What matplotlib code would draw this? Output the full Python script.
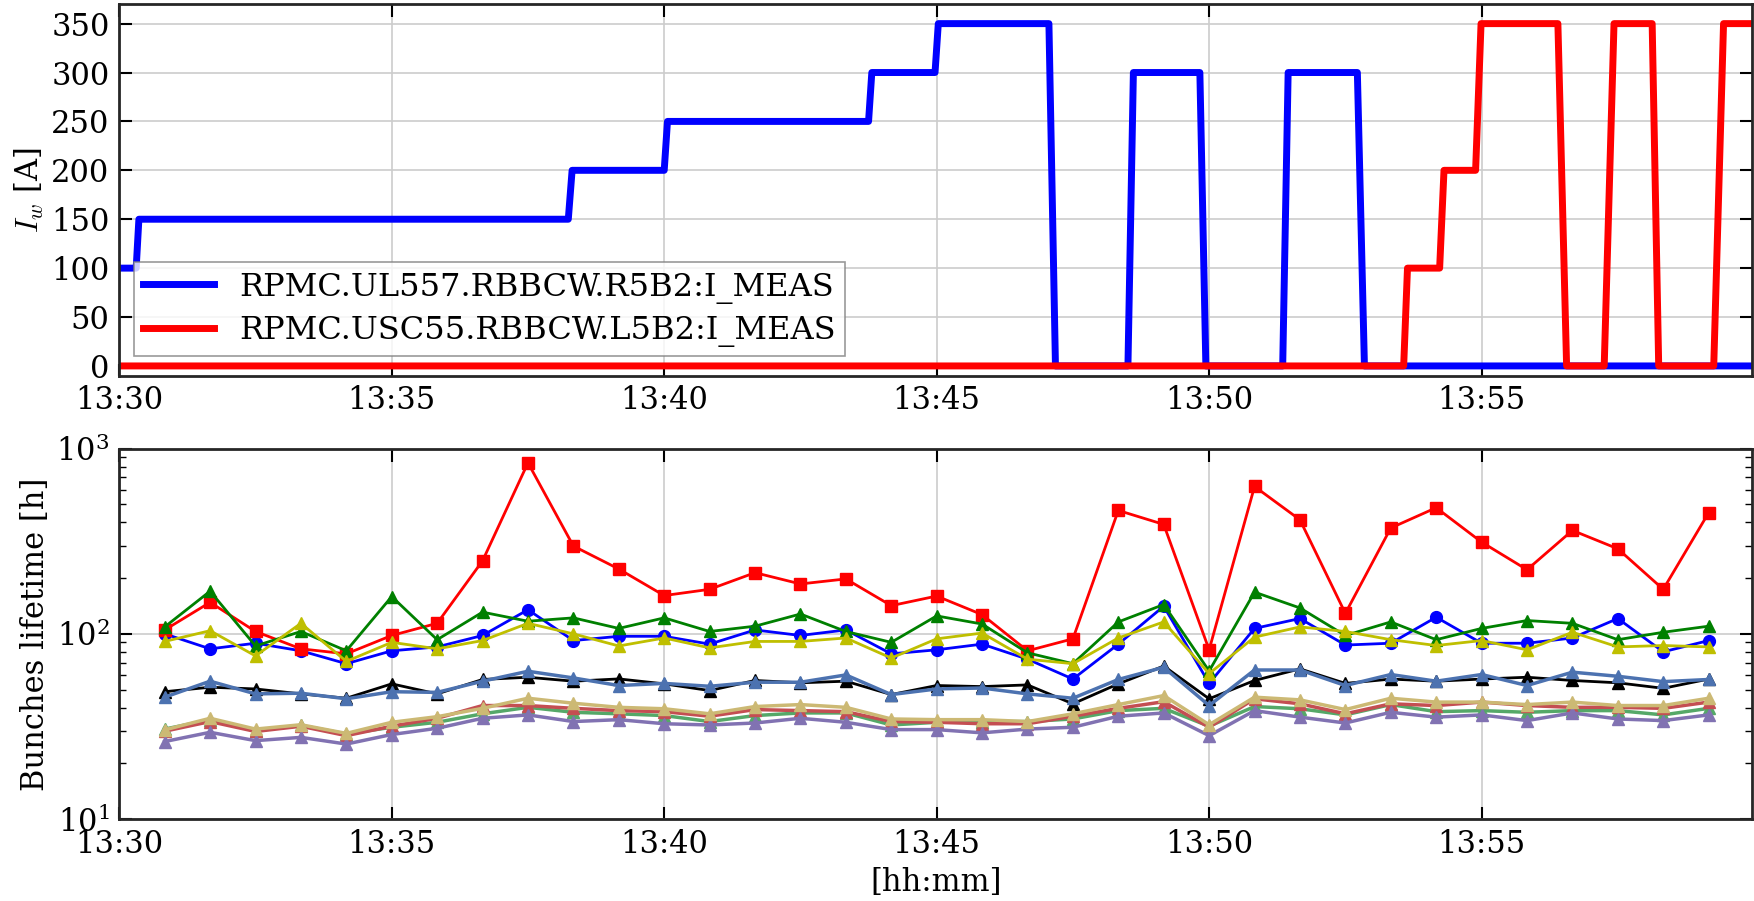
import matplotlib
matplotlib.use('Agg')
import matplotlib.pyplot as plt
import matplotlib.dates as mdates
from datetime import datetime, timedelta

plt.rcParams['font.family'] = ['DejaVu Serif']
plt.rcParams['mathtext.fontset'] = 'cm'
plt.rcParams['font.size'] = 22
plt.rcParams['xtick.direction'] = 'in'
plt.rcParams['ytick.direction'] = 'in'
plt.rcParams['xtick.top'] = True
plt.rcParams['ytick.right'] = True
plt.rcParams['axes.edgecolor'] = '#262626'
plt.rcParams['axes.linewidth'] = 2
plt.rcParams['grid.color'] = '#cccccc'
plt.rcParams['grid.linewidth'] = 1.2

t0 = datetime(2016, 1, 1, 13, 30, 0)

# wire currents, breakpoints in minutes after 13:30
blue_t = [0, 0.31, 0.36, 8.24, 8.31, 10.0, 10.06, 13.75, 13.81, 14.97, 15.03,
          17.06, 17.18, 18.51, 18.61, 19.83, 19.94, 21.35, 21.45, 22.72, 22.85, 30]
blue_v = [100, 100, 150, 150, 200, 200, 250, 250, 300, 300, 350,
          350, 0, 0, 300, 300, 0, 0, 300, 300, 0, 0]
red_t = [0, 23.57, 23.64, 24.23, 24.31, 24.89, 24.99, 26.40, 26.56, 27.25, 27.43,
         28.13, 28.25, 29.26, 29.44, 30]
red_v = [0, 0, 100, 100, 200, 200, 350, 350, 0, 0, 350, 350, 0, 0, 350, 350]

# lifetimes, one sample every 50 s
n_pts = 35
lt_blue = [100, 83, 89, 81, 69, 81, 85, 98, 135, 92, 97, 97, 88, 105, 98, 105, 78, 82,
           88, 73, 57, 88, 141, 54, 107, 121, 87, 89, 123, 89, 89, 95, 121, 80, 92]
lt_red = [105, 148, 103, 83, 78, 98, 114, 248, 839, 298, 224, 161, 174, 214, 186, 198,
          142, 160, 127, 81, 94, 464, 390, 82, 625, 413, 129, 373, 480, 313, 222, 362,
          288, 174, 451]
lt_green = [109, 170, 86, 103, 81, 159, 93, 131, 117, 122, 107, 122, 103, 110, 128, 103,
            90, 125, 113, 79, 69, 116, 144, 63, 168, 138, 98, 116, 93, 107, 118, 114,
            93, 102, 110]
lt_black = [48.7, 51.5, 50.4, 47.4, 44.9, 53.7, 47.4, 56.7, 58.3, 55.5, 57.1, 53.7,
            49.4, 56, 54.4, 55.5, 47, 52.6, 51.9, 53, 41.9, 53.7, 67, 44.6, 56, 64.7,
            54, 57, 55.5, 57, 58.3, 56, 54.4, 50.8, 57]
lt_yellow = [91, 104, 76, 114, 71, 90, 83, 92, 114, 100, 86, 95, 84, 91, 91, 95, 74, 94,
             101, 73, 69, 95, 116, 61, 96, 109, 103, 93, 86.5, 92, 82, 102, 85, 86.5, 85]
lt_sblue = [45.5, 55.5, 47.4, 47.8, 44.6, 48.7, 48.3, 55.5, 62.8, 57.8, 52.6, 54, 52.1,
            54.8, 54.8, 60, 47, 50.4, 51, 47.4, 44.9, 56.7, 66, 41, 63.8, 63.8, 52.6,
            60.3, 55.5, 60.3, 52.6, 62.1, 59, 55.2, 56.7]
lt_sgreen = [30.6, 34.3, 30, 32, 28.8, 31.3, 33.3, 37, 40.1, 37.7, 37, 36.2, 33.6, 36.2,
             37.4, 37.4, 32.2, 33.3, 33.6, 33.6, 34.7, 38.5, 39.6, 31.7, 40.5, 39.4,
             36.5, 41.5, 38, 38.5, 37.7, 38.5, 38.5, 36.5, 39.6]
lt_sred = [29.8, 33.6, 29.7, 31.7, 28.2, 31.7, 35, 41, 41, 39.6, 38.5, 38, 35.9, 39,
           38.5, 38, 33.6, 33.3, 32.7, 32.7, 35.9, 39.6, 43, 31.3, 44.6, 41.9, 37, 41.9,
           41, 42.8, 41, 40.1, 40.1, 39.6, 42.8]
lt_purple = [26.2, 29.4, 26.5, 27.6, 25.4, 28.6, 30.9, 35, 36.5, 33.6, 34.4, 32.7, 32.2,
             33, 35, 33.3, 30.4, 30.4, 29.2, 30.6, 31.3, 35.9, 37.4, 28.2, 38.5, 35.5,
             33, 37.7, 35.5, 36.5, 34, 37.4, 34.7, 34, 36.5]
lt_tan = [30.3, 35, 30.6, 32.3, 29, 33.3, 35.7, 39.6, 44.9, 42.2, 40.1, 39.4, 37, 40.5,
          41.5, 40.1, 34.7, 34.4, 34.4, 33.6, 37, 41.5, 46.4, 32.3, 45.5, 44, 39, 44.9,
          42.8, 42.8, 41.5, 42.8, 41, 41, 44.9]

fig = plt.figure(figsize=(17.54, 9.01), dpi=100)
ax1 = fig.add_axes([0.068, 0.583, 0.931, 0.4125])
ax2 = fig.add_axes([0.068, 0.091, 0.931, 0.411])

tb = [t0 + timedelta(minutes=m) for m in blue_t]
tr = [t0 + timedelta(minutes=m) for m in red_t]
ax1.plot(tb, blue_v, color='b', lw=5, label='RPMC.UL557.RBBCW.R5B2:I_MEAS')
ax1.plot(tr, red_v, color='r', lw=5, label='RPMC.USC55.RBBCW.L5B2:I_MEAS')
ax1.set_ylim(-10, 370)
ax1.set_yticks(range(0, 351, 50))
ax1.set_ylabel('$I_w$ [A]')
ax1.grid(True)
leg = ax1.legend(loc='lower left', bbox_to_anchor=(0.005, 0.035), fancybox=False,
                 fontsize=23, handlelength=2.2, borderpad=0.3, labelspacing=0.35,
                 borderaxespad=0.2)
leg.get_frame().set_edgecolor('#808080')
leg.get_frame().set_linewidth(1.2)

ts = [t0 + timedelta(seconds=50 * (i + 1)) for i in range(n_pts)]
ax2.plot(ts, lt_blue, 'b-o', lw=2, ms=8.5, mec='b')
ax2.plot(ts, lt_red, 'r-s', lw=2, ms=8.5, mec='r')
ax2.plot(ts, lt_green, 'g-^', lw=2, ms=8.5, mec='g')
ax2.plot(ts, lt_black, 'k-^', lw=2, ms=8.5)
ax2.plot(ts, lt_yellow, '-^', lw=2, ms=8.5, color='#bfbf00', mec='#bfbf00')
ax2.plot(ts, lt_sblue, '-^', lw=2.5, ms=8.5, color='#4C72B0', mec='#4C72B0')
ax2.plot(ts, lt_sgreen, '-^', lw=2.5, ms=8.5, color='#55A868', mec='#55A868')
ax2.plot(ts, lt_sred, '-^', lw=2.5, ms=8.5, color='#C44E52', mec='#C44E52')
ax2.plot(ts, lt_purple, '-^', lw=2.5, ms=8.5, color='#8172B2', mec='#8172B2')
ax2.plot(ts, lt_tan, '-^', lw=2.5, ms=8.5, color='#CCB974', mec='#CCB974')
ax2.set_yscale('log')
ax2.set_ylim(10, 1000)
ax2.set_ylabel('Bunches lifetime [h]')
ax2.set_xlabel('[hh:mm]', labelpad=5)
ax2.grid(True, which='major')

for ax in (ax1, ax2):
    ax.set_xlim(t0, t0 + timedelta(minutes=29, seconds=58))
    ax.xaxis.set_major_locator(mdates.MinuteLocator(byminute=range(0, 60, 5)))
    ax.xaxis.set_major_formatter(mdates.DateFormatter('%H:%M'))
    ax.tick_params(which='major', length=9, width=1.5, pad=7)
    ax.tick_params(which='minor', length=5, width=1)

plt.savefig('out.png', dpi=100)
